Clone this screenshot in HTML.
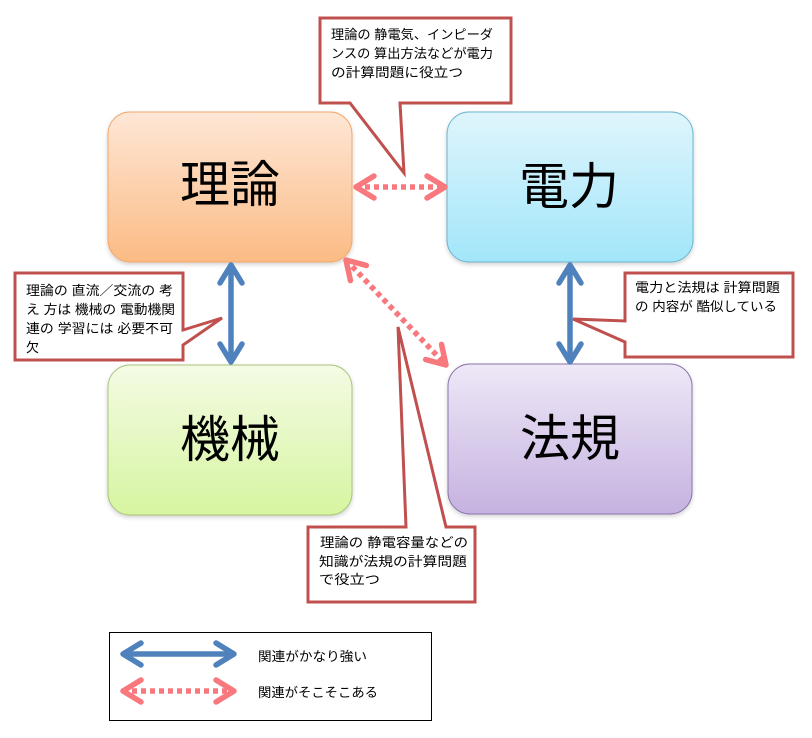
<!DOCTYPE html>
<html><head><meta charset="utf-8"><style>
html,body{margin:0;padding:0;background:#fff;}
svg{display:block;}
text{font-family:"Liberation Sans","Noto Sans CJK JP",sans-serif;fill:#000;}
</style></head><body>
<svg width="812" height="738" viewBox="0 0 812 738" xmlns="http://www.w3.org/2000/svg">
<defs>
<linearGradient id="gO" x1="0" y1="0" x2="0" y2="1"><stop offset="0" stop-color="#fee7d6"/><stop offset="1" stop-color="#fbbb84"/></linearGradient>
<linearGradient id="gB" x1="0" y1="0" x2="0" y2="1"><stop offset="0" stop-color="#dff5fc"/><stop offset="1" stop-color="#a2e6fa"/></linearGradient>
<linearGradient id="gG" x1="0" y1="0" x2="0" y2="1"><stop offset="0" stop-color="#f4fbe4"/><stop offset="1" stop-color="#d6f5a0"/></linearGradient>
<linearGradient id="gP" x1="0" y1="0" x2="0" y2="1"><stop offset="0" stop-color="#eee8f7"/><stop offset="1" stop-color="#c5b2e0"/></linearGradient>
<filter id="sh" x="-10%" y="-10%" width="120%" height="125%"><feDropShadow dx="0" dy="2" stdDeviation="2" flood-color="#000" flood-opacity="0.18"/></filter>
<marker id="mb" markerUnits="userSpaceOnUse" markerWidth="40" markerHeight="40" refX="20" refY="20" orient="auto-start-reverse" viewBox="0 0 40 40" overflow="visible">
<path d="M2,9 L20,20 L2,31" fill="none" stroke="#4f81bd" stroke-width="5.5" stroke-linecap="round" stroke-linejoin="round"/>
</marker>
<marker id="mp" markerUnits="userSpaceOnUse" markerWidth="40" markerHeight="40" refX="20" refY="20" orient="auto-start-reverse" viewBox="0 0 40 40" overflow="visible">
<path d="M2,9 L20,20 L2,31" fill="none" stroke="#f7797d" stroke-width="5.5" stroke-linecap="round" stroke-linejoin="round"/>
</marker>
</defs>

<!-- boxes -->
<rect x="108" y="112" width="244" height="150" rx="22" fill="url(#gO)" stroke="#f3a86c" stroke-width="1" filter="url(#sh)"/>
<rect x="447" y="112" width="246" height="150" rx="22" fill="url(#gB)" stroke="#6cb6cf" stroke-width="1" filter="url(#sh)"/>
<rect x="108" y="365" width="244" height="150" rx="22" fill="url(#gG)" stroke="#a8c67a" stroke-width="1" filter="url(#sh)"/>
<rect x="448" y="364" width="244" height="150" rx="22" fill="url(#gP)" stroke="#8a74aa" stroke-width="1" filter="url(#sh)"/>

<text x="230" y="185" font-size="50" text-anchor="middle" dominant-baseline="central">理論</text>
<text x="569" y="187" font-size="50" text-anchor="middle" dominant-baseline="central">電力</text>
<text x="230" y="440" font-size="50" text-anchor="middle" dominant-baseline="central">機械</text>
<text x="570" y="439" font-size="50" text-anchor="middle" dominant-baseline="central">法規</text>

<!-- connectors -->
<line x1="231" y1="265" x2="231" y2="362" stroke="#4f81bd" stroke-width="5.5" marker-start="url(#mb)" marker-end="url(#mb)"/>
<line x1="570" y1="265" x2="570" y2="362" stroke="#4f81bd" stroke-width="5.5" marker-start="url(#mb)" marker-end="url(#mb)"/>
<line x1="356" y1="187" x2="445" y2="187" stroke="#f7797d" stroke-width="5.5" stroke-dasharray="5 4" marker-start="url(#mp)" marker-end="url(#mp)"/>
<line x1="346" y1="260" x2="446" y2="365" stroke="#f7797d" stroke-width="5.5" stroke-dasharray="5 4" marker-start="url(#mp)" marker-end="url(#mp)"/>

<!-- callouts -->
<path d="M320,18 H511 V103 H400 L404,173 L350,103 H320 Z" fill="#fff" stroke="#c0504d" stroke-width="3" stroke-linejoin="miter"/>
<path d="M15,273 H183 V330 L222,318 L183,345 V360 H15 Z" fill="#fff" stroke="#c0504d" stroke-width="3"/>
<path d="M625,273 H793 V357 H625 V342 L573,319 L625,321 Z" fill="#fff" stroke="#c0504d" stroke-width="3"/>
<path d="M308,527 H406 L398,327 L446,527 H475 V602 H308 Z" fill="#fff" stroke="#c0504d" stroke-width="3"/>

<g font-size="13">
<text x="331" y="39" textLength="162" lengthAdjust="spacingAndGlyphs">理論の 静電気、インピーダ</text>
<text x="331" y="58" textLength="162" lengthAdjust="spacingAndGlyphs">ンスの 算出方法などが電力</text>
<text x="331" y="77" textLength="132" lengthAdjust="spacingAndGlyphs">の計算問題に役立つ</text>

<text x="26" y="295" textLength="147" lengthAdjust="spacingAndGlyphs">理論の 直流／交流の 考</text>
<text x="26" y="314" textLength="149" lengthAdjust="spacingAndGlyphs">え 方は 機械の 電動機関</text>
<text x="26" y="333" textLength="147" lengthAdjust="spacingAndGlyphs">連の 学習には 必要不可</text>
<text x="26" y="352">欠</text>

<text x="635" y="292" textLength="145" lengthAdjust="spacingAndGlyphs">電力と法規は 計算問題</text>
<text x="635" y="311" textLength="142" lengthAdjust="spacingAndGlyphs">の 内容が 酷似している</text>

<text x="320" y="547" textLength="148" lengthAdjust="spacingAndGlyphs">理論の 静電容量などの</text>
<text x="319" y="566" textLength="148" lengthAdjust="spacingAndGlyphs">知識が法規の計算問題</text>
<text x="319" y="584" textLength="61" lengthAdjust="spacingAndGlyphs">で役立つ</text>
</g>

<!-- legend -->
<rect x="109.5" y="632.5" width="322" height="88" fill="#fff" stroke="#000" stroke-width="1"/>
<line x1="123" y1="654" x2="234" y2="654" stroke="#4f81bd" stroke-width="5.5" marker-start="url(#mb)" marker-end="url(#mb)"/>
<line x1="123" y1="691" x2="234" y2="691" stroke="#f7797d" stroke-width="5.5" stroke-dasharray="5 4" marker-start="url(#mp)" marker-end="url(#mp)"/>
<text x="258" y="661" font-size="13" textLength="109" lengthAdjust="spacingAndGlyphs">関連がかなり強い</text>
<text x="258" y="697" font-size="13" textLength="120" lengthAdjust="spacingAndGlyphs">関連がそこそこある</text>
</svg>
</body></html>
